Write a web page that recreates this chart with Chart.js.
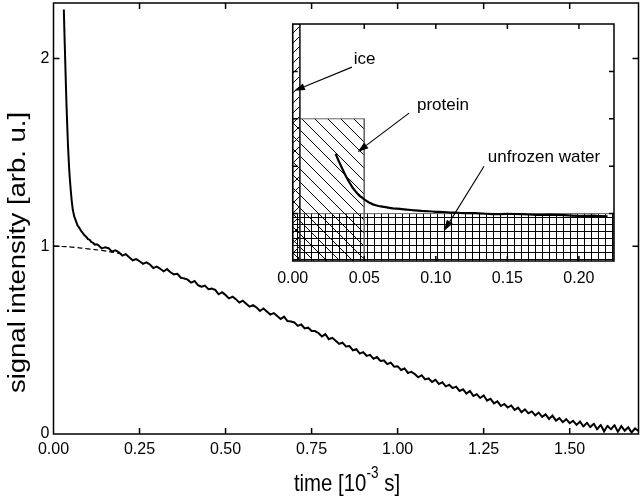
<!DOCTYPE html>
<html><head><meta charset="utf-8">
<script src="https://cdn.jsdelivr.net/npm/chart.js@4.4.1/dist/chart.umd.min.js"></script>
<style>
html,body{margin:0;padding:0;background:#fff;}
#wrap{position:relative;width:640px;height:498px;overflow:hidden;}
#main{position:absolute;left:0;top:0;}
#inset{position:absolute;left:262px;top:14px;}
</style></head><body>
<div id="wrap">
<canvas id="main" width="640" height="498"></canvas>
<canvas id="inset" width="370" height="280"></canvas>
</div>
<script>
// ---- data ----
const fastTime = [0.030,0.032,0.034,0.036,0.038,0.040,0.042,0.045,0.047,0.050,0.053,0.056,0.060,0.065,0.070,0.075,0.080,0.085,0.090,0.095,0.100,0.105,0.110,0.115,0.120,0.125];
const fastSignal = [2.26,2.12,1.99,1.86,1.74,1.64,1.54,1.43,1.37,1.30,1.24,1.195,1.16,1.135,1.11,1.098,1.082,1.07,1.058,1.05,1.038,1.034,1.022,1.018,1.008,1.01];
const slowTime = [0.13,0.14,0.15,0.16,0.17,0.18,0.19,0.20,0.21,0.22,0.23,0.24,0.25,0.26,0.27,0.28,0.29,0.30,0.31,0.32,0.33,0.34,0.35,0.36,0.37,0.38,0.39,0.40,0.41,0.42,0.43,0.44,0.45,0.46,0.47,0.48,0.49,0.50,0.51,0.52,0.53,0.54,0.55,0.56,0.57,0.58,0.59,0.60,0.61,0.62,0.63,0.64,0.65,0.66,0.67,0.68,0.69,0.70,0.71,0.72,0.73,0.74,0.75,0.76,0.77,0.78,0.79,0.80,0.81,0.82,0.83,0.84,0.85,0.86,0.87,0.88,0.89,0.90,0.91,0.92,0.93,0.94,0.95,0.96,0.97,0.98,0.99,1.00,1.01,1.02,1.03,1.04,1.05,1.06,1.07,1.08,1.09,1.10,1.11,1.12,1.13,1.14,1.15,1.16,1.17,1.18,1.19,1.20,1.21,1.22,1.23,1.24,1.25,1.26,1.27,1.28,1.29,1.30,1.31,1.32,1.33,1.34,1.35,1.36,1.37,1.38,1.39,1.40,1.41,1.42,1.43,1.44,1.45,1.46,1.47,1.48,1.49,1.50,1.51,1.52,1.53,1.54,1.55,1.56,1.57,1.58,1.59,1.60,1.61,1.62,1.63,1.64,1.65,1.66,1.67,1.68,1.69,1.70];
const slowSignal = [
  1.006,0.988,0.994,0.989,0.972,0.978,0.968,0.950,0.958,0.941,
  0.925,0.931,0.920,0.906,0.914,0.903,0.884,0.891,0.880,0.866,
  0.878,0.861,0.850,0.853,0.832,0.828,0.822,0.806,0.815,0.792,
  0.784,0.790,0.771,0.774,0.768,0.744,0.755,0.740,0.722,0.731,
  0.718,0.700,0.710,0.694,0.678,0.686,0.674,0.655,0.668,0.652,
  0.636,0.644,0.628,0.612,0.625,0.601,0.599,0.594,0.576,0.583,
  0.562,0.566,0.549,0.548,0.538,0.519,0.532,0.505,0.512,0.497,
  0.480,0.486,0.466,0.468,0.446,0.452,0.428,0.436,0.416,0.421,
  0.401,0.410,0.389,0.392,0.372,0.380,0.358,
  0.361,0.341,0.349,0.325,0.331,0.319,0.302,0.313,0.291,0.296,
  0.277,0.289,0.266,0.275,0.254,0.262,0.245,0.252,0.229,0.238,
  0.215,0.229,0.203,0.212,0.192,0.205,0.178,0.188,0.163,0.174,
  0.149,0.160,0.141,0.152,0.128,0.140,0.116,0.131,0.110,0.120,
  0.099,0.114,0.091,0.104,0.080,0.098,0.071,0.085,0.063,0.079,
  0.058,0.070,0.049,0.066,0.040,0.060,0.036,0.055,0.024,0.049,
  0.014,0.044,0.024,0.048,0.012,0.042,0.018,0.036,0.008,0.030,
  0.016];
const fitTime = [0.00,0.04,0.08,0.12,0.16,0.20];
const fitSignal = [1.000,0.997,0.990,0.982,0.972,0.958];
const mainXTicks = [0,0.25,0.5,0.75,1.0,1.25,1.5];
const mainYTicks = [0,1,2];
const insetXTicks = [0,0.05,0.1,0.15,0.2];
const insetYTicks = [0,1,2,3,4,5];
const regionNames = ['ice','protein','unfrozen water'];
const regionWidth = [0.005,0.05,0.2245];
const regionHeight = [5,3,1];

// ---- helpers ----
const FONT = '"Liberation Sans", Arial, Helvetica, sans-serif';
const timeAll = fastTime.concat(slowTime);
const signalAll = fastSignal.concat(slowSignal);
const mainPts = timeAll.map((t,i)=>({x:t,y:signalAll[i]}));
const fitPts = fitTime.map((t,i)=>({x:t,y:fitSignal[i]}));
const INSET_XMAX = 0.2245;
const insetPts = mainPts.filter(p=>p.x<=INSET_XMAX);

function makePattern(kind,S){
  const c=document.createElement('canvas');c.width=S;c.height=S;
  const g=c.getContext('2d');g.strokeStyle='#000';g.lineWidth=1;g.beginPath();
  if(kind==='grid'){g.moveTo(0.5,0);g.lineTo(0.5,S);g.moveTo(0,0.5);g.lineTo(S,0.5);}
  else if(kind==='back'){for(let k=-1;k<=1;k++){g.moveTo(k*S,0);g.lineTo(k*S+S,S);}}
  else {for(let k=-1;k<=1;k++){g.moveTo(k*S,S);g.lineTo(k*S+S,0);}}
  g.stroke();
  return g.createPattern(c,'repeat');
}
const patterns=[makePattern('fwd',10),makePattern('back',13),makePattern('grid',7)];
const borderCols=['#222','#666','#666'];

function rectPts(w,h){return [{x:0,y:0},{x:0,y:h},{x:w,y:h},{x:w,y:0}];}

function frameTicks(len,lw){
  return {id:'frameTicks',afterDraw(chart){
    const {ctx,chartArea:a,scales}=chart;
    ctx.save();ctx.strokeStyle='#000';ctx.lineWidth=lw;
    ctx.strokeRect(a.left,a.top,a.right-a.left,a.bottom-a.top);
    ctx.beginPath();
    scales.x.ticks.forEach(t=>{const p=scales.x.getPixelForValue(t.value);
      if(p<=a.left+1||p>=a.right-1)return;
      ctx.moveTo(p,a.bottom);ctx.lineTo(p,a.bottom-len);
      ctx.moveTo(p,a.top);ctx.lineTo(p,a.top+len);});
    scales.y.ticks.forEach(t=>{const p=scales.y.getPixelForValue(t.value);
      if(p>=a.bottom-1||p<=a.top+1)return;
      ctx.moveTo(a.left,p);ctx.lineTo(a.left+len,p);
      ctx.moveTo(a.right,p);ctx.lineTo(a.right-len,p);});
    ctx.stroke();ctx.restore();
  }};
}

const titles={id:'titles',afterDraw(chart){
  const ctx=chart.ctx;const a=chart.chartArea;
  ctx.save();ctx.fillStyle='#000';ctx.textBaseline='alphabetic';
  const F=24, sx=0.85;
  ctx.translate((a.left+a.right)/2+1,491);ctx.scale(sx,1);
  const big=F+'px '+FONT, small='16px '+FONT;
  ctx.font=big;const p1='time [10',p3=' s]';
  const w1=ctx.measureText(p1).width,w3=ctx.measureText(p3).width;
  ctx.font=small;const sup='-3';const w2=ctx.measureText(sup).width;
  let x=-(w1+w2+w3)/2;ctx.textAlign='left';
  ctx.font=big;ctx.fillText(p1,x,0);x+=w1;
  ctx.font=small;ctx.fillText(sup,x,-13);x+=w2;
  ctx.font=big;ctx.fillText(p3,x,0);
  ctx.restore();
  ctx.save();ctx.fillStyle='#000';ctx.textBaseline='alphabetic';ctx.textAlign='center';
  ctx.translate(25,252.5);ctx.rotate(-Math.PI/2);ctx.scale(1.17,1);
  ctx.font='23.5px '+FONT;ctx.fillText('signal intensity [arb. u.]',0,0);
  ctx.restore();
}};

Chart.defaults.font.family=FONT;
Chart.defaults.color='#000';

new Chart(document.getElementById('main'),{
  type:'line',
  data:{datasets:[
    {label:'signal',data:mainPts,borderColor:'#000',borderWidth:2,pointRadius:0,tension:0.0001,order:1},
    {label:'fit',data:fitPts,borderColor:'#000',borderWidth:1.2,borderDash:[5,3],pointRadius:0,tension:0.3,order:2}
  ]},
  options:{responsive:false,animation:false,devicePixelRatio:1,events:[],
    layout:{padding:{top:3,right:1.5,left:0,bottom:0}},
    plugins:{legend:{display:false},tooltip:{enabled:false}},
    scales:{
      x:{type:'linear',min:0,max:1.7,
        afterBuildTicks:s=>{s.ticks=mainXTicks.map(v=>({value:v}));},
        afterFit:s=>{s.height=64;s.paddingLeft=0;s.paddingRight=0;},
        grid:{display:false,drawTicks:false},border:{display:false},
        ticks:{callback:v=>Number(v).toFixed(2),font:{size:16},padding:6,maxRotation:0,autoSkip:false}},
      y:{type:'linear',min:0,max:2.295,
        afterBuildTicks:s=>{s.ticks=mainYTicks.map(v=>({value:v}));},
        afterFit:s=>{s.width=53.5;s.paddingTop=0;s.paddingBottom=0;},
        grid:{display:false,drawTicks:false},border:{display:false},
        ticks:{callback:v=>String(v),font:{size:16},padding:4,autoSkip:false}}
    }
  },
  plugins:[frameTicks(6,1.5),titles]
});

const insetNotes=[
  {text:regionNames[0],tx:0.0502,ty:4.26,x0:0.0414,y0:4.09,x1:0.0009,y1:3.59},
  {text:regionNames[1],tx:0.105,ty:3.29,x0:0.0813,y0:3.12,x1:0.0453,y1:2.30},
  {text:regionNames[2],tx:0.1756,ty:2.19,x0:0.1337,y0:2.00,x1:0.1057,y1:0.633}
];
const notesPlugin={id:'notes',afterDraw(chart){
  const {ctx,scales:{x,y}}=chart;
  ctx.save();ctx.fillStyle='#000';ctx.strokeStyle='#000';ctx.lineWidth=1.1;
  ctx.font='17px '+FONT;ctx.textAlign='center';ctx.textBaseline='middle';
  insetNotes.forEach(n=>{
    ctx.fillText(n.text,x.getPixelForValue(n.tx),y.getPixelForValue(n.ty));
    const ax=x.getPixelForValue(n.x0),ay=y.getPixelForValue(n.y0);
    const bx=x.getPixelForValue(n.x1),by=y.getPixelForValue(n.y1);
    const ang=Math.atan2(by-ay,bx-ax),L=11,W=3.5;
    const hx=bx-L*Math.cos(ang),hy=by-L*Math.sin(ang);
    ctx.beginPath();ctx.moveTo(ax,ay);ctx.lineTo(hx,hy);ctx.stroke();
    ctx.beginPath();ctx.moveTo(bx,by);
    ctx.lineTo(hx+W*Math.sin(ang),hy-W*Math.cos(ang));
    ctx.lineTo(hx-W*Math.sin(ang),hy+W*Math.cos(ang));
    ctx.closePath();ctx.fill();
  });
  ctx.restore();
}};
const insetBg={id:'insetBg',beforeDraw(chart){
  const {ctx,chartArea:a}=chart;ctx.save();ctx.fillStyle='#fff';
  ctx.fillRect(a.left,a.top,a.right-a.left,a.bottom-a.top);ctx.restore();
}};

const regionSets=[2,1,0].map((i,k)=>({label:regionNames[i],data:rectPts(regionWidth[i],regionHeight[i]),
  fill:'origin',backgroundColor:patterns[i],borderColor:borderCols[i],borderWidth:1,pointRadius:0,tension:0,order:5-k}));

new Chart(document.getElementById('inset'),{
  type:'line',
  data:{datasets:regionSets.concat([
    {label:'signal',data:insetPts,borderColor:'#000',borderWidth:2.2,pointRadius:0,tension:0.0001,fill:false,order:0}
  ])},
  options:{responsive:false,animation:false,devicePixelRatio:1,events:[],
    layout:{padding:{top:10,right:18,left:0,bottom:0}},
    plugins:{legend:{display:false},tooltip:{enabled:false}},
    scales:{
      x:{type:'linear',min:0,max:INSET_XMAX,
        afterBuildTicks:s=>{s.ticks=insetXTicks.map(v=>({value:v}));},
        afterFit:s=>{s.height=33;s.paddingLeft=0;s.paddingRight=0;},
        grid:{display:false,drawTicks:false},border:{display:false},
        ticks:{callback:v=>Number(v).toFixed(2),font:{size:16},padding:8,maxRotation:0,autoSkip:false}},
      y:{type:'linear',min:0,max:5,
        afterBuildTicks:s=>{s.ticks=insetYTicks.map(v=>({value:v}));},
        afterFit:s=>{s.width=30.7;s.paddingTop=0;s.paddingBottom=0;},
        grid:{display:false,drawTicks:false},border:{display:false},
        ticks:{display:false}}
    }
  },
  plugins:[insetBg,frameTicks(5,1.5),notesPlugin]
});
</script>
</body></html>
